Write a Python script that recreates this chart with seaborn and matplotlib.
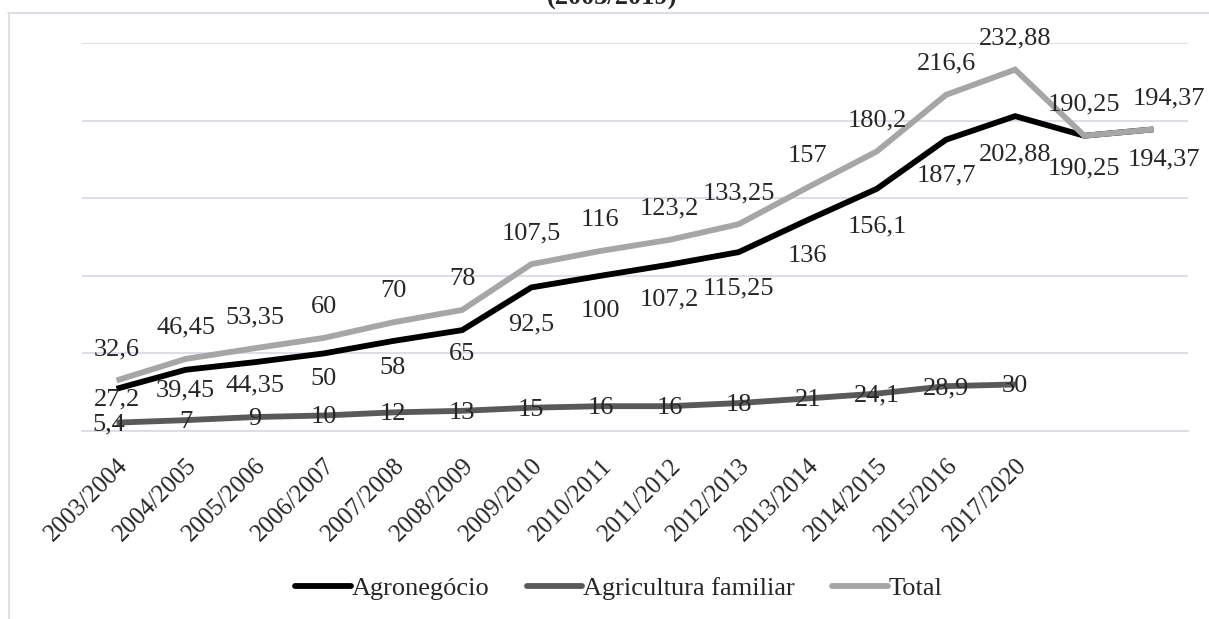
"""
Agronegócio x Agricultura familiar (2003/2019) - line chart
"""

import pandas as pd
import matplotlib.pyplot as plt
import seaborn as sns
from matplotlib.lines import Line2D

# Data
safras = ['2003/2004', '2004/2005', '2005/2006', '2006/2007', '2007/2008',
          '2008/2009', '2009/2010', '2010/2011', '2011/2012', '2012/2013',
          '2013/2014', '2014/2015', '2015/2016', '2017/2020', '', '']
agronegocio = [27.2, 39.45, 44.35, 50, 58, 65, 92.5, 100, 107.2, 115.25,
               136, 156.1, 187.7, 202.88, 190.25, 194.37]
agricultura_familiar = [5.4, 7, 9, 10, 12, 13, 15, 16, 16, 18, 21, 24.1, 28.9, 30]
total = [32.6, 46.45, 53.35, 60, 70, 78, 107.5, 116, 123.2, 133.25,
         157, 180.2, 216.6, 232.88, 190.25, 194.37]

series = {
    'Agronegócio': agronegocio,
    'Agricultura familiar': agricultura_familiar,
    'Total': total,
}
colors = {'Agronegócio': '#000000', 'Agricultura familiar': '#595959', 'Total': '#a6a6a6'}

# label nudges (pixels) as placed in the original chart
agro_label_drop = [11, 21, 23, 26, 27, 24, 37, 35, 35, 36, 36, 38, 36, 38, 33, 30]
total_label_rise = 31
PX = 72 / 100  # pixels -> points at dpi 100

rows = []
for name, vals in series.items():
    for i, v in enumerate(vals):
        rows.append({'pos': i, 'valor': v, 'serie': name})
df = pd.DataFrame(rows)

sns.set_style("white")
plt.rcParams['font.family'] = ['Liberation Serif', 'DejaVu Serif']
plt.rcParams['font.size'] = 19

fig = plt.figure(figsize=(12.09, 6.19), dpi=100)
ax = fig.add_axes([0.0678, 0.3037, 0.9148, 0.6268])

sns.lineplot(data=df, x='pos', y='valor', hue='serie', palette=colors,
             linewidth=4.2, ax=ax, legend=False, sort=False)
for line in ax.get_lines():
    line.set_solid_capstyle('butt')
    line.set_solid_joinstyle('miter')

ax.set_xlim(-0.5, len(safras) - 0.5)
ax.set_ylim(0, 250)

# Grid and axes
grid_color = '#d9dde4'
ax.set_yticks([0, 50, 100, 150, 200, 250])
ax.yaxis.grid(True, color=grid_color, linewidth=1.3)
ax.tick_params(axis='y', left=False, labelleft=False)
for side in ['left', 'right', 'top']:
    ax.spines[side].set_visible(False)
ax.spines['bottom'].set_color(grid_color)
ax.spines['bottom'].set_linewidth(1.3)

ax.set_xticks(range(len(safras)))
ax.set_xticklabels(safras, rotation=45, ha='right', va='top',
                   rotation_mode='anchor', fontsize=18)
ax.set_xticks([i - 0.5 for i in range(len(safras) + 1)], minor=True)
ax.tick_params(axis='x', which='major', length=0, pad=17)
ax.tick_params(axis='x', which='minor', length=7, width=1.3, color=grid_color)
ax.set_xlabel('')
ax.set_ylabel('')


def fmt(v):
    return f'{v:g}'.replace('.', ',')


# Data labels
last = len(safras) - 1
for i, v in enumerate(total):
    dx = 16 if i == last else 0
    ax.annotate(fmt(v), (i, v), xytext=(dx * PX, total_label_rise * PX),
                textcoords='offset points', ha='center', va='center',
                annotation_clip=False)
for i, v in enumerate(agronegocio):
    dx = 11 if i == last else 0
    ax.annotate(fmt(v), (i, v), xytext=(dx * PX, -agro_label_drop[i] * PX),
                textcoords='offset points', ha='center', va='center',
                annotation_clip=False)
for i, v in enumerate(agricultura_familiar):
    dx = -8 if i == 0 else 0
    ax.annotate(fmt(v), (i, v), xytext=(dx * PX, -2 * PX), textcoords='offset points',
                ha='center', va='center', annotation_clip=False)

# Legend
handles = [Line2D([0], [0], color=colors[n], linewidth=4.2, solid_capstyle='round')
           for n in series]
fig.legend(handles, list(series.keys()), loc='center', bbox_to_anchor=(0.512, 0.050),
           ncol=3, frameon=False, handlelength=2.1, handletextpad=0.05,
           columnspacing=1.4, fontsize=19)

# Chart frame and (cut) title
frame_color = '#d9dde4'
fig.add_artist(Line2D([8 / 1209, 1], [1 - 12.5 / 619] * 2, color=frame_color, linewidth=1.3))
fig.add_artist(Line2D([8.5 / 1209] * 2, [0, 1 - 12.5 / 619], color=frame_color, linewidth=1.3))
fig.text(0.506, 1 - 10 / 619, '(2003/2019)', ha='center', va='bottom',
         fontsize=19, fontweight='bold')

plt.savefig('out.png', dpi=100)
plt.close()
